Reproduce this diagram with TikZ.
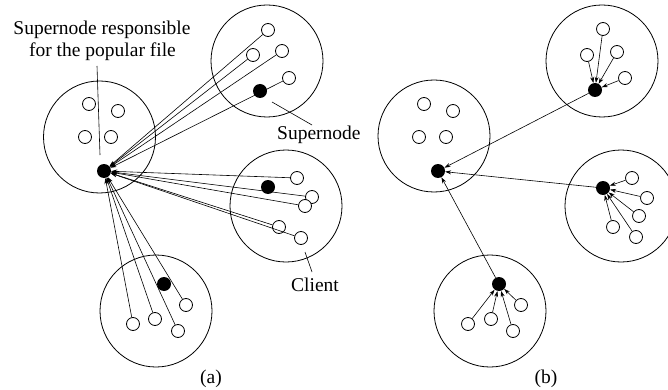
\documentclass[tikz,border=0pt]{standalone}
\usepackage{fontspec}
\setmainfont{Liberation Serif}
\usetikzlibrary{arrows.meta}
\begin{document}
\begin{tikzpicture}[x=1pt,y=-1pt,
  cluster/.style={circle,draw,line width=0.8pt,minimum size=112pt,inner sep=0pt},
  client/.style={circle,draw,line width=0.8pt,minimum size=13pt,inner sep=0pt,fill=white},
  super/.style={circle,fill=black,minimum size=14pt,inner sep=0pt},
  link/.style={line width=0.6pt,-{Stealth[length=6pt,width=4pt]}},
  lbl/.style={font=\fontsize{19.5}{22}\selectfont,inner sep=0pt,anchor=base},
  pointer/.style={line width=0.6pt}]
\useasboundingbox (0,0) rectangle (668,390);
% ---------- (a) ----------
\node[cluster] (aL) at (99.5,137) {};
\node[cluster] (aT) at (267,61) {};
\node[cluster] (aR) at (286,206) {};
\node[cluster] (aB) at (156,311) {};
\node[client] (aL1) at (89,104) {};
\node[client] (aL2) at (118,111) {};
\node[client] (aL3) at (85,137) {};
\node[client] (aL4) at (111,137) {};
\node[super] (aLs) at (104,171) {};
\foreach \n/\p in {aT1/{(268,30)},aT2/{(253,55)},aT3/{(282,51)},aT4/{(289,78)},
  aR1/{(297,178)},aR2/{(312,197)},aR3/{(305,206)},aR4/{(279,227)},aR5/{(301,238)},
  aB1/{(133,324)},aB2/{(155,319)},aB3/{(178,331)},aB4/{(186,305)}}
  {\node[client] (\n) at \p {};}
\foreach \n in {aT1,aT2,aT3,aT4,aR1,aR2,aR3,aR4,aR5,aB1,aB2,aB3,aB4}
  {\draw[link] (\n) -- (aLs);}
\node[super] (aTs) at (260,91) {};
\node[super] (aRs) at (268,187) {};
\node[super] (aBs) at (164,284) {};
\coordinate (p1a) at (97,66);
\coordinate (p1b) at (100,155);
\draw[pointer] (p1a) -- (p1b);
\coordinate (p2a) at (272,102);
\coordinate (p2b) at (312,125);
\draw[pointer] (p2a) -- (p2b);
\coordinate (p3a) at (305,252);
\coordinate (p3b) at (312,272);
\draw[pointer] (p3a) -- (p3b);
\node[lbl] (t1) at (102,35) {Supernode responsible};
\node[lbl] (t2) at (102.5,57) {for the popular file};
\node[lbl,anchor=base west] (t3) at (277,140) {Supernode};
\node[lbl,anchor=base west] (t4) at (291,291) {Client};
\node[lbl] (ta) at (211,383) {(a)};
% ---------- (b) ----------
\node[cluster] (bL) at (434,136) {};
\node[cluster] (bT) at (602,61) {};
\node[cluster] (bR) at (621,206) {};
\node[cluster] (bB) at (490,311) {};
\node[client] (bL1) at (424,104) {};
\node[client] (bL2) at (453,111) {};
\node[client] (bL3) at (419,137) {};
\node[client] (bL4) at (446,137) {};
\node[super] (bLs) at (438,171) {};
\node[super] (bTs) at (595,90) {};
\node[super] (bRs) at (603,188) {};
\node[super] (bBs) at (499,284) {};
\foreach \n/\p in {bT1/{(603,29)},bT2/{(587,55)},bT3/{(617,52)},bT4/{(625,78)},
  bR1/{(632,178)},bR2/{(647,198)},bR3/{(639,216)},bR4/{(613,227)},bR5/{(636,237)},
  bB1/{(468,324)},bB2/{(491,319)},bB3/{(513,331)},bB4/{(521,305)}}
  {\node[client] (\n) at \p {};}
\foreach \n in {bT1,bT2,bT3,bT4} {\draw[link] (\n) -- (bTs);}
\foreach \n in {bR1,bR2,bR3,bR4,bR5} {\draw[link] (\n) -- (bRs);}
\foreach \n in {bB1,bB2,bB3,bB4} {\draw[link] (\n) -- (bBs);}
\foreach \n in {bTs,bRs,bBs} {\draw[link] (\n) -- (bLs);}
\node[lbl] (tb) at (546,383) {(b)};
\end{tikzpicture}
\end{document}
